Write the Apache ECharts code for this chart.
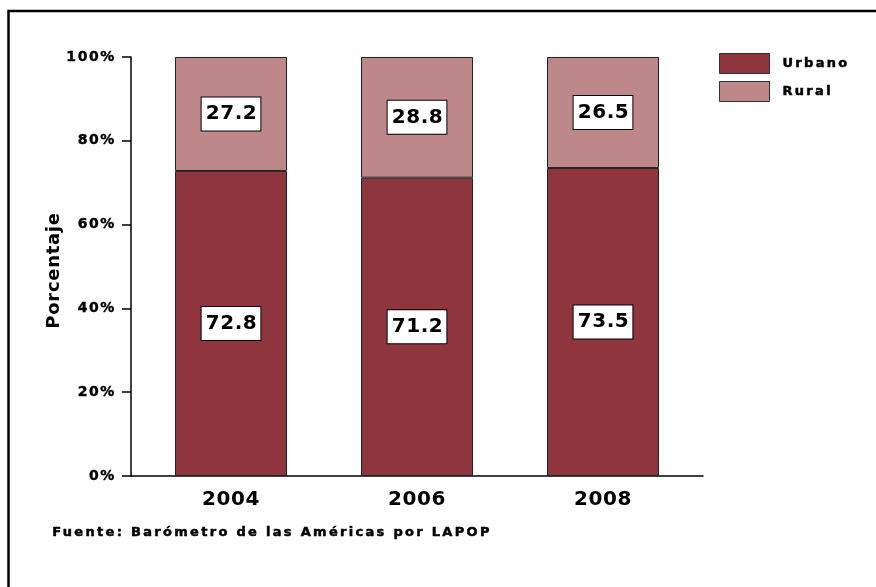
<!DOCTYPE html>
<html>
<head>
<meta charset="utf-8">
<script src="https://cdn.jsdelivr.net/npm/echarts@6/dist/echarts.min.js"></script>
<style>html,body{margin:0;padding:0;background:#fff;}#c{width:876px;height:587px;}</style>
</head>
<body>
<div id="c"></div>
<script>
var categories = ['2004', '2006', '2008'];
var urbano = [72.8, 71.2, 73.5];
var rural = [27.2, 28.8, 26.5];
var yTicks = [0, 20, 40, 60, 80, 100];

// The reference uses slightly letter-spaced bold text; emulate via canvas letterSpacing.
(function () {
  var spacing = { 13: 2.3, 14: 1.6, 18: 0.7, 20: 0.6 };
  var proto = CanvasRenderingContext2D.prototype;
  if (!('letterSpacing' in proto)) return;
  var desc = Object.getOwnPropertyDescriptor(proto, 'font');
  Object.defineProperty(proto, 'font', {
    configurable: true,
    get: function () { return desc.get.call(this); },
    set: function (v) {
      desc.set.call(this, v);
      var m = /(\d+(?:\.\d+)?)px/.exec(v);
      var s = m && spacing[Math.round(parseFloat(m[1]))];
      this.letterSpacing = (s || 0) + 'px';
    }
  });
})();

var FONT = '"DejaVu Sans", Verdana, sans-serif';
var chart = echarts.init(document.getElementById('c'));
var labelStyle = {
  show: true,
  position: 'inside',
  backgroundColor: '#fff',
  borderColor: '#000',
  borderWidth: 1,
  padding: [6, 3, 4, 4],
  lineHeight: 23,
  color: '#000',
  fontFamily: FONT,
  fontWeight: 'bold',
  fontSize: 20,
  formatter: function (p) { return p.value.toFixed(1); }
};
chart.setOption({
  animation: false,
  backgroundColor: '#fff',
  graphic: [{
    type: 'rect', shape: { x: 8.5, y: 11, width: 900, height: 620 },
    style: { fill: 'none', stroke: '#000', lineWidth: 2.5 }, silent: true
  }, {
    type: 'text', left: 52, top: 525,
    style: { text: 'Fuente: Barómetro de las Américas por LAPOP', font: 'bold 13px ' + FONT, fill: '#000',
      stroke: '#000', lineWidth: 0.5 }
  }],
  legend: {
    data: ['Urbano', 'Rural'],
    orient: 'vertical',
    left: 719, top: 53, padding: 0,
    icon: 'rect',
    itemWidth: 50, itemHeight: 20, itemGap: 7,
    textStyle: { fontFamily: FONT, fontWeight: 'bold', fontSize: 13, color: '#000', padding: [0, 0, 0, 8],
      textBorderColor: '#000', textBorderWidth: 0.5 },
    itemStyle: { borderColor: '#333', borderWidth: 1 }
  },
  grid: [
    { left: 138, right: 180, top: 57, bottom: 111 },
    { left: 131, right: 173, top: 57, bottom: 111 }
  ],
  xAxis: [{
    type: 'category', data: categories, gridIndex: 0,
    axisLine: { show: false }, axisTick: { show: false },
    axisLabel: { fontFamily: FONT, fontWeight: 'bold', fontSize: 20, color: '#000', margin: 13 }
  }, {
    type: 'value', gridIndex: 1, min: 0, max: 1,
    axisLine: { show: true, lineStyle: { color: '#000', width: 1.5 } },
    axisTick: { show: false }, axisLabel: { show: false }, splitLine: { show: false }
  }],
  yAxis: [{
    type: 'value', gridIndex: 0, min: 0, max: 100, interval: 20,
    show: false
  }, {
    type: 'value', gridIndex: 1, min: 0, max: 100, interval: 20,
    name: 'Porcentaje', nameLocation: 'middle', nameGap: 67, nameMoveOverlap: false,
    nameTextStyle: { fontFamily: FONT, fontWeight: 'bold', fontSize: 18, color: '#000', padding: [0, 8, 0, 0] },
    axisLine: { show: true, lineStyle: { color: '#000', width: 1.5 } },
    axisTick: { show: true, length: 9, lineStyle: { color: '#000', width: 1.5 } },
    axisLabel: {
      fontFamily: FONT, fontWeight: 'bold', fontSize: 14, color: '#000', margin: 15,
      textBorderColor: '#000', textBorderWidth: 0.4,
      formatter: function (v) { return yTicks.indexOf(v) >= 0 ? v + '%' : ''; }
    },
    splitLine: { show: false }
  }],
  series: [{
    name: 'Urbano', type: 'bar', stack: 'total', data: urbano, barWidth: 112,
    xAxisIndex: 0, yAxisIndex: 0,
    itemStyle: { color: '#8E353E', borderColor: '#222', borderWidth: 1 },
    label: labelStyle
  }, {
    name: 'Rural', type: 'bar', stack: 'total', data: rural, barWidth: 112,
    xAxisIndex: 0, yAxisIndex: 0,
    itemStyle: { color: '#BE8789', borderColor: '#222', borderWidth: 1 },
    label: labelStyle
  }]
});
</script>
</body>
</html>
